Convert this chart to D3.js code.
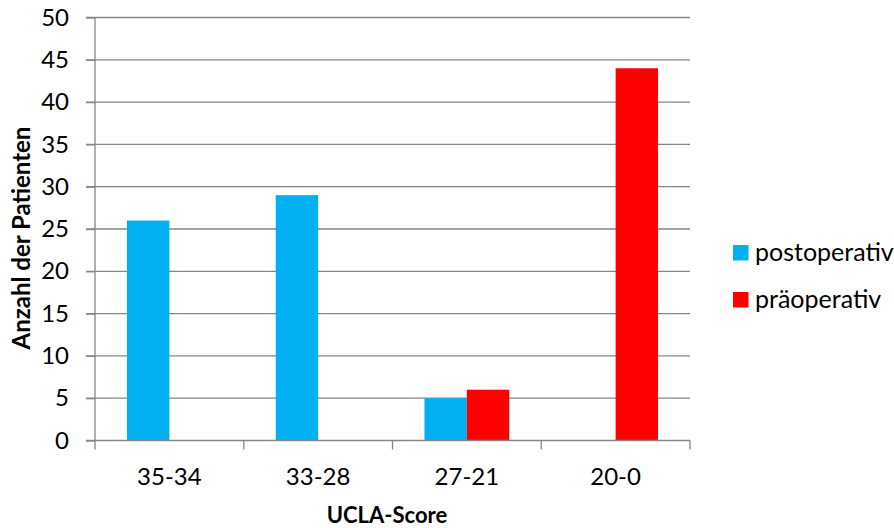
<!DOCTYPE html>
<html>
<head>
<meta charset="utf-8">
<script src="https://cdn.jsdelivr.net/npm/d3@7"></script>
<style>
  html, body { margin: 0; padding: 0; background: #fff; }
  svg text { font-family: Lato, "Open Sans", sans-serif; fill: #000; }
</style>
</head>
<body>
<svg id="chart" width="894" height="528"></svg>
<script>
// UCLA score groups and patient counts
const categories = ["35-34", "33-28", "27-21", "20-0"];
const seriesNames = ["postoperativ", "präoperativ"];
const postoperativ = [26, 29, 5, 0];
const praeoperativ = [0, 0, 6, 44];
const seriesColors = ["#00B0F0", "#FF0000"];
const yTicks = [0, 5, 10, 15, 20, 25, 30, 35, 40, 45, 50];

const values = [postoperativ, praeoperativ];
const svg = d3.select("#chart");

const plot = { left: 95, right: 690, top: 17.5, bottom: 440.5 };
const gridColor = "#868686";
const fontSize = 24;

const x = d3.scaleBand().domain(categories).range([plot.left, plot.right]).paddingInner(0).paddingOuter(0);
const groupPad = 0.215;
const x1 = d3.scaleBand().domain(seriesNames)
  .range([x.bandwidth() * groupPad, x.bandwidth() * (1 - groupPad)]);
const y = d3.scaleLinear().domain([0, 50]).range([plot.bottom, plot.top]);

// horizontal gridlines, extending left as tick marks
svg.append("g").selectAll("line").data(yTicks.filter(d => d > 0)).join("line")
  .attr("x1", plot.left - 9).attr("x2", plot.right)
  .attr("y1", d => y(d)).attr("y2", d => y(d))
  .attr("stroke", gridColor).attr("stroke-width", 1.3);

// bars
const rows = [];
categories.forEach((c, i) => seriesNames.forEach((s, j) => {
  if (values[j][i] > 0) rows.push({ c, s, v: values[j][i], color: seriesColors[j] });
}));
svg.append("g").selectAll("rect").data(rows).join("rect")
  .attr("x", d => x(d.c) + x1(d.s))
  .attr("width", x1.bandwidth())
  .attr("y", d => y(d.v))
  .attr("height", d => y(0) - y(d.v))
  .attr("fill", d => d.color);

// y axis
const yAxis = d3.axisLeft(y).tickValues(yTicks).tickSize(9).tickPadding(17);
const gy = svg.append("g").attr("transform", `translate(${plot.left},0)`).call(yAxis);
gy.select(".domain").attr("stroke", gridColor).attr("stroke-width", 1.3).attr("d", `M0,${plot.top}V${plot.bottom}`);
gy.selectAll(".tick line").attr("stroke", gridColor).attr("stroke-width", 1.3);
gy.selectAll(".tick text").attr("font-size", fontSize).attr("font-family", "Lato").attr("fill", "#000");

// x axis with tick marks at category boundaries
const gx = svg.append("g").attr("transform", `translate(0,${plot.bottom})`);
gx.append("line").attr("x1", plot.left - 9).attr("x2", plot.right)
  .attr("stroke", gridColor).attr("stroke-width", 1.3);
const bounds = categories.map(c => x(c)).concat([plot.right]);
gx.selectAll("line.tk").data(bounds).join("line").attr("class", "tk")
  .attr("x1", d => d).attr("x2", d => d).attr("y1", 0).attr("y2", 9)
  .attr("stroke", gridColor).attr("stroke-width", 1.3);
gx.selectAll("text").data(categories).join("text")
  .attr("x", d => x(d) + x.bandwidth() / 2).attr("y", 44.5)
  .attr("text-anchor", "middle").attr("font-size", fontSize).text(d => d);

// axis titles
svg.append("text").attr("x", 387).attr("y", 523).attr("text-anchor", "middle")
  .attr("font-size", 22).attr("font-weight", "bold").text("UCLA-Score");
svg.append("text").attr("transform", "translate(30,238) rotate(-90)").attr("text-anchor", "middle")
  .attr("font-size", 24).attr("font-weight", "bold").text("Anzahl der Patienten");

// legend
const legend = svg.append("g").selectAll("g").data(seriesNames).join("g")
  .attr("transform", (d, i) => `translate(733,${245 + i * 47})`);
legend.append("rect").attr("width", 15.5).attr("height", 15.5).attr("fill", (d, i) => seriesColors[i]);
legend.append("text").attr("x", 22).attr("y", 15.5).attr("font-size", 25).text(d => d);
</script>
</body>
</html>
